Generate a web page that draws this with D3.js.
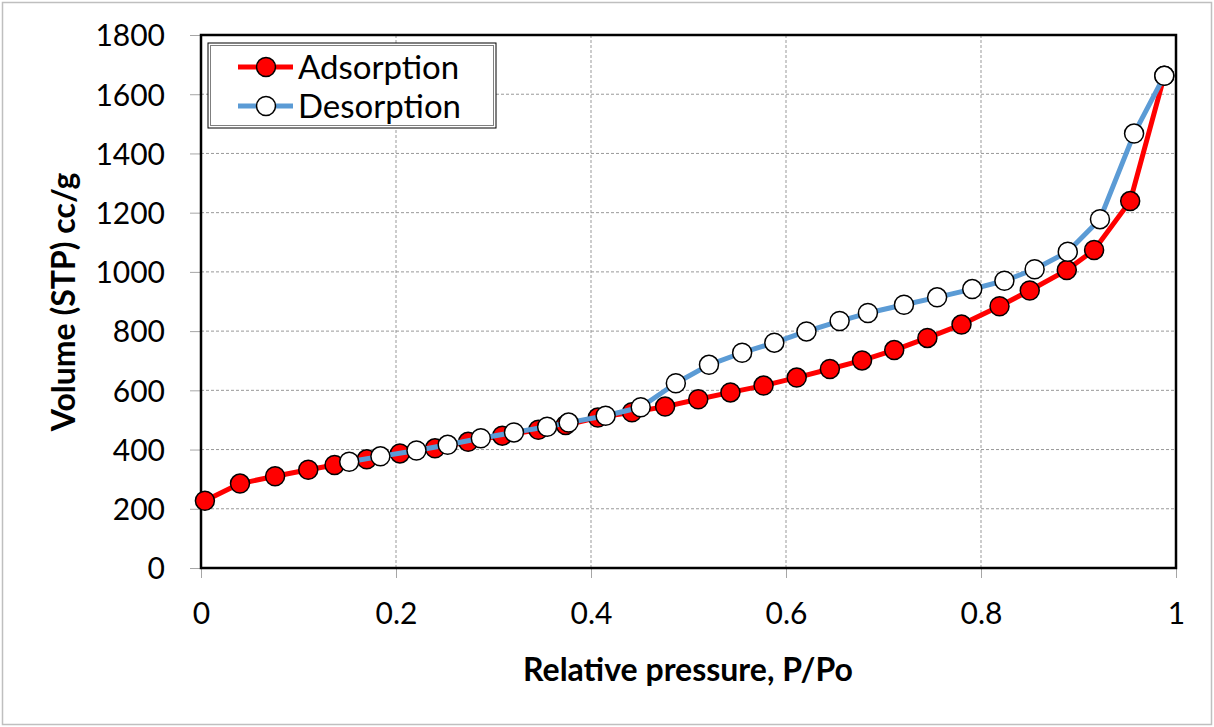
<!DOCTYPE html>
<html>
<head>
<meta charset="utf-8">
<script src="https://cdn.jsdelivr.net/npm/d3@7"></script>
<style>
  body { margin: 0; background: #fff; }
  svg text { font-family: Lato, "Open Sans", sans-serif; fill: #000; }
</style>
</head>
<body>
<div id="chart"></div>
<script>
// isotherm data
const adsX = [0.004, 0.040, 0.076, 0.110, 0.137, 0.170, 0.204, 0.240, 0.274, 0.309,
              0.346, 0.374, 0.407, 0.442, 0.476, 0.510, 0.543, 0.577, 0.611, 0.645,
              0.678, 0.711, 0.745, 0.780, 0.819, 0.850, 0.888, 0.916, 0.953, 0.988];
const adsY = [227, 285, 310, 332, 348, 367, 387, 404, 426, 447,
              467, 483, 508, 526, 545, 570, 593, 616, 643, 672,
              701, 736, 777, 822, 884, 937, 1006, 1074, 1239, 1662];
const desX = [0.988, 0.957, 0.922, 0.889, 0.855, 0.824, 0.791, 0.755, 0.721, 0.684,
              0.655, 0.621, 0.588, 0.555, 0.521, 0.487, 0.451, 0.415, 0.377, 0.355,
              0.321, 0.287, 0.253, 0.221, 0.184, 0.152];
const desY = [1662, 1467, 1178, 1068, 1009, 970, 942, 914, 889, 861,
              834, 799, 761, 727, 686, 624, 543, 514, 491, 477,
              458, 438, 416, 397, 377, 359];
const xTicks = [0, 0.2, 0.4, 0.6, 0.8, 1];
const yTicks = [0, 200, 400, 600, 800, 1000, 1200, 1400, 1600, 1800];
const seriesNames = ["Adsorption", "Desorption"];

const W = 1214, H = 727;
const margin = {top: 35, right: 38, bottom: 159, left: 201},
      width = W - margin.left - margin.right,
      height = H - margin.top - margin.bottom;

const svg = d3.select("#chart").append("svg")
  .attr("width", W).attr("height", H);

// outer chart border
svg.append("rect")
  .attr("x", 2.5).attr("y", 2.5).attr("width", W - 5).attr("height", H - 5)
  .attr("fill", "#fff").attr("stroke", "#bfbfbf").attr("stroke-width", 1.5);

const g = svg.append("g")
  .attr("transform", "translate(" + margin.left + "," + margin.top + ")");

const x = d3.scaleLinear().domain([0, 1]).range([0, width]);
const y = d3.scaleLinear().domain([0, 1800]).range([height, 0]);

// gridlines
g.append("g").selectAll("line")
  .data(xTicks.slice(1, -1)).enter().append("line")
  .attr("x1", d => x(d)).attr("x2", d => x(d))
  .attr("y1", 0).attr("y2", height)
  .attr("stroke", "#999").attr("stroke-width", 1).attr("stroke-dasharray", "3,2");
g.append("g").selectAll("line")
  .data(yTicks.slice(1, -1)).enter().append("line")
  .attr("x1", 0).attr("x2", width)
  .attr("y1", d => y(d)).attr("y2", d => y(d))
  .attr("stroke", "#999").attr("stroke-width", 1).attr("stroke-dasharray", "3,2");

// axes
const xAxis = g.append("g")
  .attr("transform", "translate(0," + height + ")")
  .call(d3.axisBottom(x).tickValues(xTicks).tickFormat(d3.format("~g")).tickSize(10).tickPadding(24));
const yAxis = g.append("g")
  .call(d3.axisLeft(y).tickValues(yTicks).tickFormat(d3.format("d")).tickSize(11).tickPadding(25));
[xAxis, yAxis].forEach(a => {
  a.select(".domain").remove();
  a.selectAll(".tick line").attr("stroke", "#a6a6a6").attr("stroke-width", 1);
  a.selectAll(".tick text").attr("font-family", "Lato, sans-serif").attr("font-size", 30).attr("fill", "#000");
});
yAxis.selectAll(".tick text").attr("dy", "0.36em");
xAxis.selectAll(".tick text").attr("dy", "0.72em");

// plot border
g.append("rect")
  .attr("x", 0).attr("y", 0).attr("width", width).attr("height", height)
  .attr("fill", "none").attr("stroke", "#000").attr("stroke-width", 2.5);

// axis titles
g.append("text")
  .attr("x", 688 - margin.left).attr("y", 681 - margin.top)
  .attr("text-anchor", "middle").attr("font-size", 32).attr("font-weight", "bold")
  .text("Relative pressure, P/Po");
g.append("text")
  .attr("transform", "translate(" + (75 - margin.left) + "," + (302 - margin.top) + ") rotate(-90)")
  .attr("text-anchor", "middle").attr("font-size", 32).attr("font-weight", "bold")
  .text("Volume (STP) cc/g");

const line = d3.line().x(d => x(d[0])).y(d => y(d[1]));
const ads = adsX.map((v, i) => [v, adsY[i]]);
const des = desX.map((v, i) => [v, desY[i]]);

function drawSeries(data, color, fill) {
  g.append("path").datum(data)
    .attr("d", line).attr("fill", "none")
    .attr("stroke", color).attr("stroke-width", 5).attr("stroke-linejoin", "round");
  g.append("g").selectAll("circle")
    .data(data).enter().append("circle")
    .attr("cx", d => x(d[0])).attr("cy", d => y(d[1])).attr("r", 9.5)
    .attr("fill", fill).attr("stroke", "#000").attr("stroke-width", 1.5);
}
drawSeries(ads, "#ff0000", "#ff0000");
drawSeries(des, "#5b9bd5", "#ffffff");

// legend
const legend = svg.append("g").attr("transform", "translate(208,43)");
legend.append("rect").attr("x", 0).attr("y", 0).attr("width", 288).attr("height", 85)
  .attr("fill", "#fff").attr("stroke", "#000").attr("stroke-width", 1);
legend.append("rect").attr("x", 2.5).attr("y", 2.5).attr("width", 283).attr("height", 80)
  .attr("fill", "none").attr("stroke", "#7f7f7f").attr("stroke-width", 1);
const legendItems = [
  {name: seriesNames[0], color: "#ff0000", fill: "#ff0000", cy: 24},
  {name: seriesNames[1], color: "#5b9bd5", fill: "#ffffff", cy: 63}
];
legendItems.forEach(it => {
  legend.append("line").attr("x1", 30).attr("x2", 85).attr("y1", it.cy).attr("y2", it.cy)
    .attr("stroke", it.color).attr("stroke-width", 5);
  legend.append("circle").attr("cx", 58).attr("cy", it.cy).attr("r", 9.5)
    .attr("fill", it.fill).attr("stroke", "#000").attr("stroke-width", 1.5);
  legend.append("text").attr("x", 90).attr("y", it.cy).attr("dy", "0.36em")
    .attr("font-size", 33).text(it.name);
});
</script>
</body>
</html>
